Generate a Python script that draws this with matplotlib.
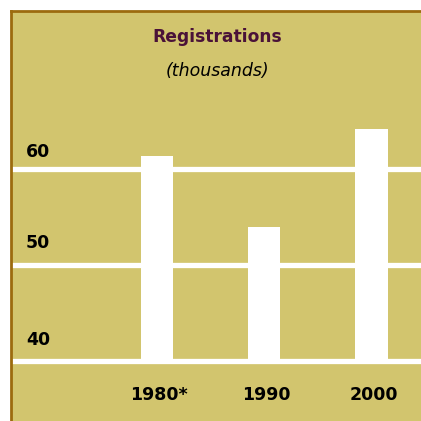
import matplotlib
matplotlib.use('Agg')
import matplotlib.pyplot as plt
from matplotlib.transforms import blended_transform_factory

years = ["1980*", "1990", "2000"]
registrations = [61.4, 54.0, 64.2]
grid_values = [40, 50, 60]
grid_labels = ["40", "50", "60"]

panel = "#d2c56e"
border = "#9c6b0e"
title_color = "#4a1238"

plt.rcParams['font.family'] = ['DejaVu Sans']

fig = plt.figure(figsize=(4.21, 4.21), dpi=100, facecolor="white")
ax = fig.add_axes([10.5 / 421, 0, 1 - 10.5 / 421, 1 - 10.5 / 421])
ax.set_facecolor(panel)

x = list(range(len(years)))
ax.set_xlim(-1.36, 2.46)
ax.set_ylim(33.8, 76.5)

for v in grid_values:
    ax.axhline(v, color="white", lw=3.8, zorder=1)

ax.bar(x, [r - 40 for r in registrations], bottom=40, width=0.3,
       color="white", zorder=2)

# label sits a bit above each grid line
label_lift = [2.2, 2.3, 1.75]
trans = blended_transform_factory(ax.transAxes, ax.transData)
for v, lab, lift in zip(grid_values, grid_labels, label_lift):
    ax.text(0.038, v + lift, lab, transform=trans, ha="left", va="center",
            fontsize=12.5, fontweight="bold", color="black")

for xi, lab in zip(x, years):
    ax.text(xi + 0.02, 36.5, lab, ha="center", va="center",
            fontsize=12.5, fontweight="bold", color="black")

ax.text(0.503, 0.936, "Registrations", transform=ax.transAxes, ha="center",
        va="center", fontsize=12.3, fontweight="bold", color=title_color)
ax.text(0.505, 0.852, "(thousands)", transform=ax.transAxes, ha="center",
        va="center", fontsize=12.5, fontstyle="italic", color="black")

ax.set_xticks([])
ax.set_yticks([])
for s in ["right", "bottom"]:
    ax.spines[s].set_visible(False)
for s in ["left", "top"]:
    ax.spines[s].set_color(border)
    ax.spines[s].set_linewidth(2)

fig.savefig("out.png", dpi=100, facecolor="white")
